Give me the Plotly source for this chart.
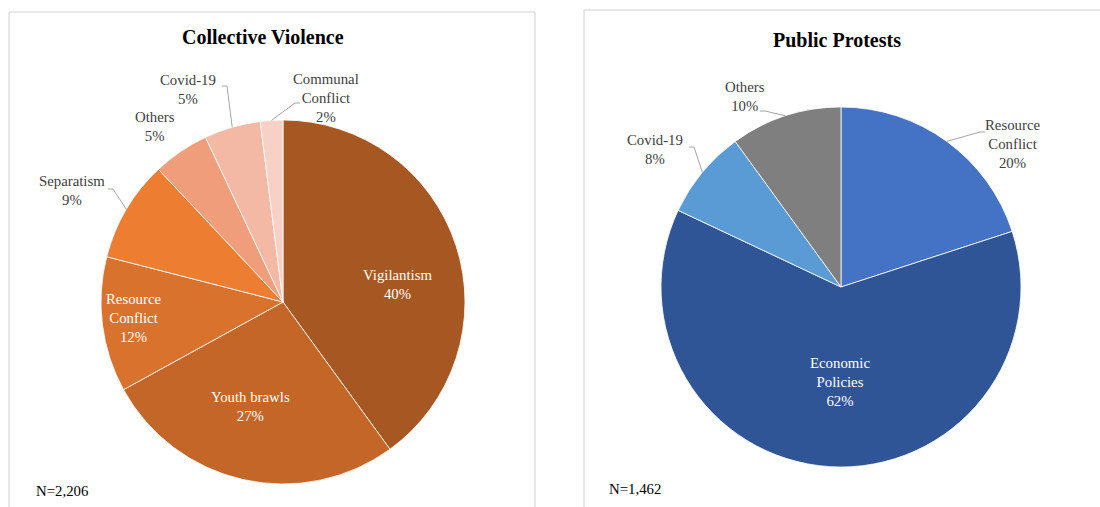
import math
import plotly.graph_objects as go

# ---- data -------------------------------------------------------------
violence_labels = ["Vigilantism", "Youth brawls", "Resource Conflict", "Separatism",
                   "Others", "Covid-19", "Communal Conflict"]
violence_values = [40, 27, 12, 9, 5, 5, 2]
violence_n = "N=2,206"

protest_labels = ["Resource Conflict", "Economic Policies", "Covid-19", "Others"]
protest_values = [20, 62, 8, 10]
protest_n = "N=1,462"

# ---- canvas helpers (pixel -> paper) -----------------------------------
W, H = 1100, 507


def px(x):
    return x / W


def py(y):
    return 1 - y / H


FONT = "Liberation Serif, Times New Roman, serif"
GRAY_TXT = "#404040"
LEADER = "#A6A6A6"
LABEL_SIZE = 14.8
TITLE_SIZE = 20

violence_colors = ["#A65722", "#C46628", "#D9722D", "#ED7D31",
                   "#EF9D7A", "#F4B9A4", "#F8D1C6"]
protest_colors = ["#4472C4", "#2F5597", "#5B9BD5", "#7F7F7F"]

# pie geometry (centre x, centre y, radius) in pixels
LEFT_PIE = (283, 302, 182)
RIGHT_PIE = (841, 287, 180)


def domain(c):
    cx, cy, r = c
    return dict(x=[px(cx - r), px(cx + r)], y=[py(cy + r), py(cy - r)])


def edge_point(c, values, i):
    """Point on the rim at the middle of slice i (clockwise from 12 o'clock)."""
    cx, cy, r = c
    total = sum(values)
    frac = (sum(values[:i]) + values[i] / 2) / total
    t = 2 * math.pi * frac
    return cx + r * math.sin(t), cy - r * math.cos(t)


fig = go.Figure()

fig.add_trace(go.Pie(
    labels=violence_labels, values=violence_values, sort=False,
    direction="clockwise", rotation=0, textinfo="none", hoverinfo="label+percent",
    marker=dict(colors=violence_colors, line=dict(color="white", width=0.8)),
    domain=domain(LEFT_PIE), showlegend=False,
))
fig.add_trace(go.Pie(
    labels=protest_labels, values=protest_values, sort=False,
    direction="clockwise", rotation=0, textinfo="none", hoverinfo="label+percent",
    marker=dict(colors=protest_colors, line=dict(color="white", width=0.8)),
    domain=domain(RIGHT_PIE), showlegend=False,
))

annotations = []
shapes = []

# panel frames
shapes.append(dict(type="rect", xref="paper", yref="paper",
                   x0=px(9), x1=px(535), y0=py(520), y1=py(12),
                   line=dict(color="#D0D0D0", width=1), layer="below"))
shapes.append(dict(type="rect", xref="paper", yref="paper",
                   x0=px(584), x1=px(1120), y0=py(520), y1=py(10),
                   line=dict(color="#D0D0D0", width=1), layer="below"))


def text(x, y, s, color=GRAY_TXT, size=LABEL_SIZE, bold=False):
    if bold:
        s = "<b>" + s + "</b>"
    annotations.append(dict(x=px(x), y=py(y), xref="paper", yref="paper",
                            text=s, showarrow=False, xanchor="center", yanchor="middle",
                            align="center", font=dict(family=FONT, size=size, color=color)))


def label_text(name, value):
    return name.replace(" ", "<br>") + "<br>" + f"{value}%"


# titles and sample sizes
text(263, 37, "Collective Violence", color="#000000", size=TITLE_SIZE, bold=True)
text(837, 40, "Public Protests", color="#000000", size=TITLE_SIZE, bold=True)
annotations.append(dict(x=px(34), y=py(491), xref="paper", yref="paper", text=violence_n,
                        showarrow=False, xanchor="left", yanchor="middle",
                        font=dict(family=FONT, size=LABEL_SIZE, color="#000000")))
annotations.append(dict(x=px(607), y=py(489), xref="paper", yref="paper", text=protest_n,
                        showarrow=False, xanchor="left", yanchor="middle",
                        font=dict(family=FONT, size=LABEL_SIZE, color="#000000")))

# label placement: slice index -> (text centre, leader end or None, inside?)
violence_place = {
    0: ((397, 284), None, True),
    1: ((250, 406), None, True),
    2: ((133, 318), None, True),
    3: ((72, 191), (108, 189), False),
    4: ((155, 127), None, False),
    5: ((188, 89), (222, 86), False),
    6: ((326, 98), (300, 103), False),
}
protest_place = {
    0: ((1012, 144), (985, 132), False),
    1: ((840, 382), None, True),
    2: ((655, 150), (689, 147), False),
    3: ((745, 97), (760, 111), False),
}


def place_labels(pie, names, values, placement):
    for i, ((tx, ty), end, inside) in placement.items():
        name = names[i]
        if name == "Youth brawls":
            s = name + "<br>" + f"{values[i]}%"
        else:
            s = label_text(name, values[i])
        text(tx, ty, s, color="#FFFFFF" if inside else GRAY_TXT)
        if end is not None:
            ex, ey = edge_point(pie, values, i)
            stub = 5 if ex > end[0] else -5
            shapes.append(dict(type="path", xref="paper", yref="paper",
                               path=f"M {px(ex)},{py(ey)} L {px(end[0] + stub)},{py(end[1])} "
                                    f"L {px(end[0])},{py(end[1])}",
                               line=dict(color=LEADER, width=1)))


place_labels(LEFT_PIE, violence_labels, violence_values, violence_place)
place_labels(RIGHT_PIE, protest_labels, protest_values, protest_place)

fig.update_layout(
    width=W, height=H,
    margin=dict(l=0, r=0, t=0, b=0),
    paper_bgcolor="white", plot_bgcolor="white",
    annotations=annotations, shapes=shapes,
)

fig.write_html("out.html")
